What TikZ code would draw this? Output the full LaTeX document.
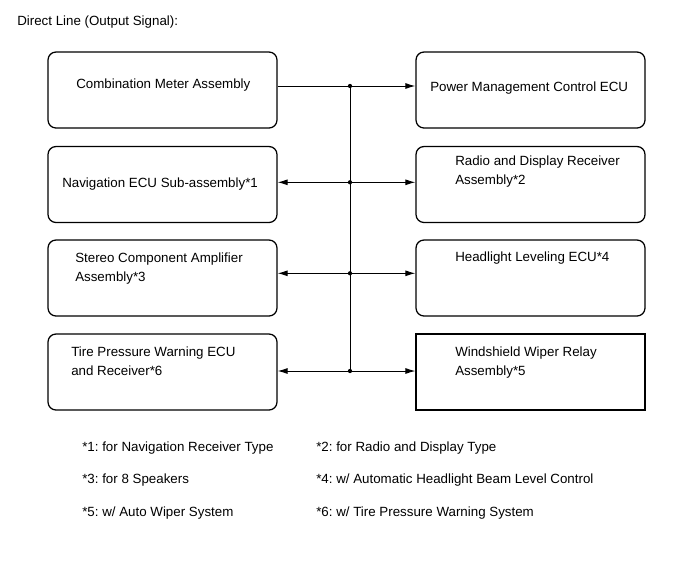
\documentclass[tikz,border=0pt]{standalone}
\usepackage{fontspec}
\setmainfont{Liberation Sans}
\usetikzlibrary{arrows.meta,calc,positioning}
\frenchspacing

\tikzset{
  ecubox/.style={draw,line width=0.95pt,rounded corners=6pt,minimum width=171.75pt,minimum height=57pt,inner sep=0pt},
  boxtext/.style={anchor=base west,align=left,inner sep=0pt},
  junction/.style={circle,fill,inner sep=0pt,minimum size=3.2pt},
  wire/.style={line width=0.7pt},
  tip/.style={-{Latex[length=7.5pt,width=4.5pt]}},
  twotip/.style={{Latex[length=7.5pt,width=4.5pt]}-{Latex[length=7.5pt,width=4.5pt]}}
}

\begin{document}
\begin{tikzpicture}[x=0.75pt,y=-0.75pt,every node/.style={font=\fontsize{10}{14.25}\selectfont}]
    \useasboundingbox (0,0) rectangle (690,562);
    \node[boxtext] (title) at (17,25) {Direct Line (Output Signal):};

    % boxes
    \foreach \name/\x/\y in {cm/162.5/90,nav/162.5/184.5,amp/162.5/278,tpws/162.5/372,
                             pm/530.5/90,radio/530.5/184.5,hl/530.5/278} {
      \node[ecubox] (\name) at (\x,\y) {};
    }
    \node[ecubox,sharp corners,line width=0.85pt] (wiper) at (530.5,372) {};

    % box texts (base = last line)
    \node[boxtext] (cm-text) at (76,88) {Combination Meter Assembly};
    \node[boxtext] (nav-text) at (62,187) {Navigation ECU Sub-assembly*1};
    \node[boxtext] (amp-text) at (75,281) {Stereo Component Amplifier\\Assembly*3};
    \node[boxtext] (tpws-text) at (71,375) {Tire Pressure Warning ECU\\and Receiver*6};
    \node[boxtext] (pm-text) at (430,91) {Power Management Control ECU};
    \node[boxtext] (radio-text) at (455,184) {Radio and Display Receiver\\Assembly*2};
    \node[boxtext] (hl-text) at (455,261) {Headlight Leveling ECU*4};
    \node[boxtext] (wiper-text) at (455,375) {Windshield Wiper Relay\\Assembly*5};

    % bus
    \foreach \j/\y in {j1/86,j2/182.3,j3/273.3,j4/371} {
      \node[junction] (\j) at (350,\y) {};
    }
    \draw[wire] (j1.center) -- (j4.center);
    \draw[wire] (cm.east |- j1) -- (j1.center);
    \draw[wire,tip] (j1.center) -- (j1 -| pm.west);
    \draw[wire,twotip] (j2 -| nav.east) -- (j2 -| radio.west);
    \draw[wire,twotip] (j3 -| amp.east) -- (j3 -| hl.west);
    \draw[wire,twotip] (j4 -| tpws.east) -- (j4 -| wiper.west);

    % notes
    \foreach \n/\x/\y/\t in {n1/82/451/{*1: for Navigation Receiver Type},
                             n2/316/451/{*2: for Radio and Display Type},
                             n3/82/483/{*3: for 8 Speakers},
                             n4/316/483/{*4: w/ Automatic Headlight Beam Level Control},
                             n5/82/516/{*5: w/ Auto Wiper System},
                             n6/316/516/{*6: w/ Tire Pressure Warning System}} {
      \node[boxtext] (\n) at (\x,\y) {\t};
    }
\end{tikzpicture}
\end{document}
